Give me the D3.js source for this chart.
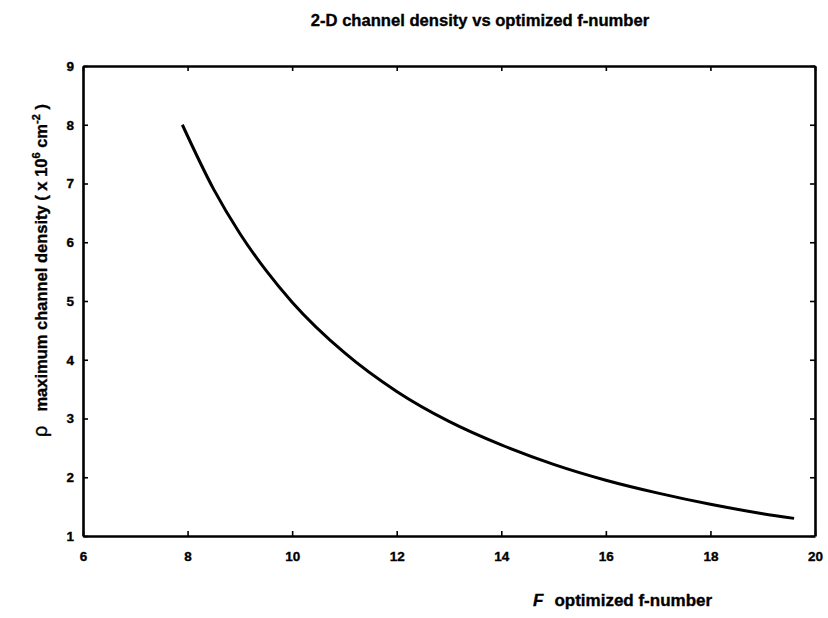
<!DOCTYPE html>
<html>
<head>
<meta charset="utf-8">
<script src="https://cdn.jsdelivr.net/npm/d3@7"></script>
<style>
  html, body { margin: 0; padding: 0; background: #fff; }
  svg { display: block; }
  text { font-family: "Liberation Sans", Arial, Helvetica, sans-serif; font-weight: bold; fill: #000; stroke: #000; stroke-width: 0.35px; }
</style>
</head>
<body>
<svg id="chart" width="828" height="618"></svg>
<script>
// Data
const fNumber = [7.9, 8.5, 9, 9.5, 10, 11, 12, 13, 14, 15, 16, 17, 18, 19, 19.6];
const density = [8.0, 6.9, 6.15, 5.52, 4.98, 4.12, 3.46, 2.95, 2.55, 2.22, 1.95, 1.73, 1.54, 1.38, 1.30];
const xTicks = [6, 8, 10, 12, 14, 16, 18, 20];
const yTicks = [1, 2, 3, 4, 5, 6, 7, 8, 9];
const titleText = "2-D channel density vs optimized f-number";

const svg = d3.select("#chart");
const m = { left: 83, right: 815, top: 66, bottom: 536 };

const x = d3.scaleLinear().domain([6, 20]).range([m.left, m.right]);
const y = d3.scaleLinear().domain([1, 9]).range([m.bottom, m.top]);

// axes (ticks pointing inward)
const tick = 5;
const gB = svg.append("g").attr("transform", `translate(0,${m.bottom})`)
  .call(d3.axisBottom(x).tickValues(xTicks).tickSizeInner(-tick).tickSizeOuter(0).tickPadding(15));
const gT = svg.append("g").attr("transform", `translate(0,${m.top})`)
  .call(d3.axisTop(x).tickValues(xTicks).tickSizeInner(-tick).tickSizeOuter(0).tickFormat(""));
const gL = svg.append("g").attr("transform", `translate(${m.left},0)`)
  .call(d3.axisLeft(y).tickValues(yTicks).tickSizeInner(-tick).tickSizeOuter(0).tickPadding(9));
const gR = svg.append("g").attr("transform", `translate(${m.right},0)`)
  .call(d3.axisRight(y).tickValues(yTicks).tickSizeInner(-tick).tickSizeOuter(0).tickFormat(""));

[gB, gT, gL, gR].forEach(g => {
  g.select(".domain").attr("stroke", "#000").attr("stroke-width", 2.6);
  g.selectAll(".tick line").attr("stroke", "#000").attr("stroke-width", 1.6);
  g.selectAll(".tick text").style("font-size", "13.5px").style("font-weight", "bold")
    .style("font-family", "'Liberation Sans', Arial, sans-serif").attr("fill", "#000")
    .attr("stroke", "#000").attr("stroke-width", 0.35);
});
gB.selectAll(".tick text").attr("dy", "0.71em");

// curve
const line = d3.line().x((d, i) => x(fNumber[i])).y(d => y(d)).curve(d3.curveMonotoneX);
svg.append("path").datum(density)
  .attr("d", line).attr("fill", "none").attr("stroke", "#000").attr("stroke-width", 3);

// title
svg.append("text").attr("x", 480).attr("y", 26).attr("text-anchor", "middle")
  .style("font-size", "16.6px").text(titleText);

// x label
const xl = svg.append("text").attr("x", 533).attr("y", 606).style("font-size", "17px");
xl.append("tspan").style("font-style", "italic").style("font-size", "17px").text("F");
xl.append("tspan").attr("dx", 11).text("optimized f-number");

// y label
const yl = svg.append("text").attr("transform", "translate(47,437) rotate(-90)").style("font-size", "16.5px");
yl.append("tspan").style("font-size", "20px").style("font-weight", "normal").text("ρ");
yl.append("tspan").attr("dx", 14).text("maximum channel density ( x 10");
yl.append("tspan").attr("dy", -7).style("font-size", "11px").text("6");
yl.append("tspan").attr("dy", 7).text(" cm");
yl.append("tspan").attr("dy", -7).style("font-size", "11px").text("-2");
yl.append("tspan").attr("dy", 7).text(" )");
</script>
</body>
</html>
